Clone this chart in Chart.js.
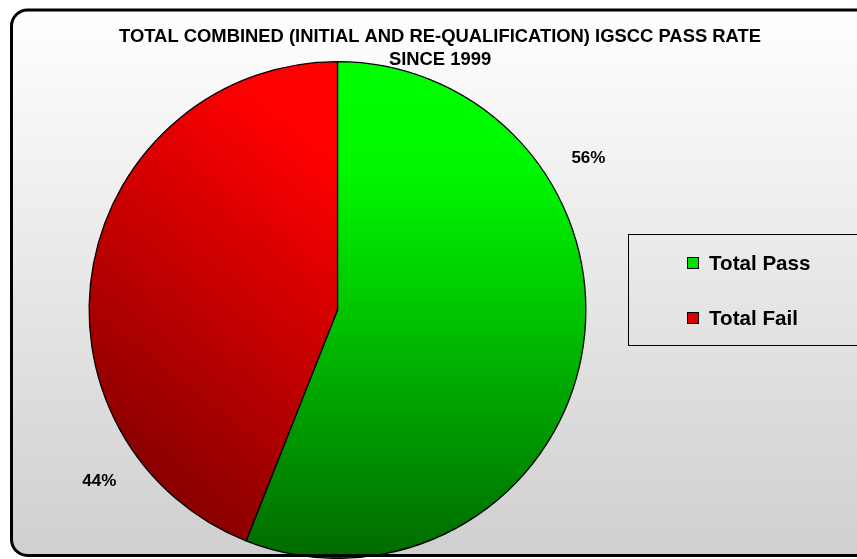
<!DOCTYPE html>
<html>
<head>
<meta charset="utf-8">
<script src="https://cdn.jsdelivr.net/npm/chart.js@4/dist/chart.umd.min.js"></script>
<style>
  html, body { margin: 0; padding: 0; background: #ffffff; }
  #wrap { width: 857px; height: 559px; position: relative; }
</style>
</head>
<body>
<div id="wrap"><canvas id="c" width="857" height="559"></canvas></div>
<script>
// Pass / fail split of all IGSCC qualification attempts
const categories = ['Total Pass', 'Total Fail'];
const shares = [56, 44];
const percentLabels = ['56%', '44%'];
const titleLines = ['TOTAL COMBINED (INITIAL AND RE-QUALIFICATION) IGSCC PASS RATE', 'SINCE 1999'];

const FONT = '"Liberation Sans", Arial, sans-serif';

// Slice fills: shaded gradients per slice
function sliceFill(ctx) {
  const chart = ctx.chart;
  const area = chart.chartArea;
  if (!area) return ctx.index === 0 ? '#00c000' : '#c00000';
  const c = chart.ctx;
  const cx = (area.left + area.right) / 2;
  const cy = (area.top + area.bottom) / 2;
  const r = Math.min(area.right - area.left, area.bottom - area.top) / 2;
  if (ctx.index === 0) {
    const g = c.createLinearGradient(cx, cy - r, cx, cy + r);
    g.addColorStop(0, '#00ff00');
    g.addColorStop(0.22, '#00f800');
    g.addColorStop(1, '#006a00');
    return g;
  } else {
    const g = c.createLinearGradient(cx, cy - r * 0.6, cx - r * 0.9, cy + r * 0.55);
    g.addColorStop(0, '#ff0000');
    g.addColorStop(1, '#8a0000');
    return g;
  }
}

// Chart panel: shaded background, rounded frame, title, value labels, legend
const panel = {
  id: 'panel',
  beforeDraw(chart) {
    const c = chart.ctx;
    c.save();
    const g = c.createLinearGradient(0, 10, 0, 556);
    g.addColorStop(0, '#ffffff');
    g.addColorStop(1, '#cfcfcf');
    c.fillStyle = g;
    c.beginPath();
    c.roundRect(11.5, 10, 870, 545.5, 16);
    c.fill();
    c.restore();
  },
  afterDraw(chart) {
    const c = chart.ctx;
    c.save();
    c.strokeStyle = '#000000';
    c.lineWidth = 3;
    c.beginPath();
    c.roundRect(11.5, 10, 870, 545.5, 16);
    c.stroke();

    // title
    c.fillStyle = '#000000';
    c.font = 'bold 18.4px ' + FONT;
    c.textAlign = 'center';
    c.textBaseline = 'middle';
    c.fillText(titleLines[0], 440, 37);
    c.fillText(titleLines[1], 440, 60);

    // percentage labels outside the slices, rotated back from each slice's middle
    const meta = chart.getDatasetMeta(0);
    const turn = [0.733, 0.812];
    c.font = 'bold 17px ' + FONT;
    meta.data.forEach((arc, i) => {
      const p = arc.getProps(['x', 'y', 'startAngle', 'endAngle', 'outerRadius'], true);
      const mid = (p.startAngle + p.endAngle) / 2;
      const a = mid - turn[i];
      const d = p.outerRadius + 45;
      c.fillText(percentLabels[i], p.x + Math.cos(a) * d, p.y + Math.sin(a) * d);
    });

    // legend box
    c.strokeStyle = '#000000';
    c.lineWidth = 1;
    c.strokeRect(628.5, 234.5, 240, 111);
    const colors = ['#00e000', '#dd0000'];
    const rows = [263, 318];
    c.font = 'bold 20.6px ' + FONT;
    c.textAlign = 'left';
    categories.forEach((name, i) => {
      c.fillStyle = colors[i];
      c.fillRect(687.5, rows[i] - 5.5, 11, 11);
      c.strokeRect(687.5, rows[i] - 5.5, 11, 11);
      c.fillStyle = '#000000';
      c.fillText(name, 709, rows[i] + 1);
    });
    c.restore();
  }
};

new Chart(document.getElementById('c'), {
  type: 'pie',
  data: {
    labels: categories,
    datasets: [{
      data: shares,
      backgroundColor: sliceFill,
      borderColor: '#000000',
      borderWidth: 1.3
    }]
  },
  options: {
    responsive: false,
    animation: false,
    layout: { padding: { left: 88, right: 270, top: 61, bottom: 0 } },
    plugins: {
      legend: { display: false },
      tooltip: { enabled: false },
      title: { display: false }
    }
  },
  plugins: [panel]
});
</script>
</body>
</html>
